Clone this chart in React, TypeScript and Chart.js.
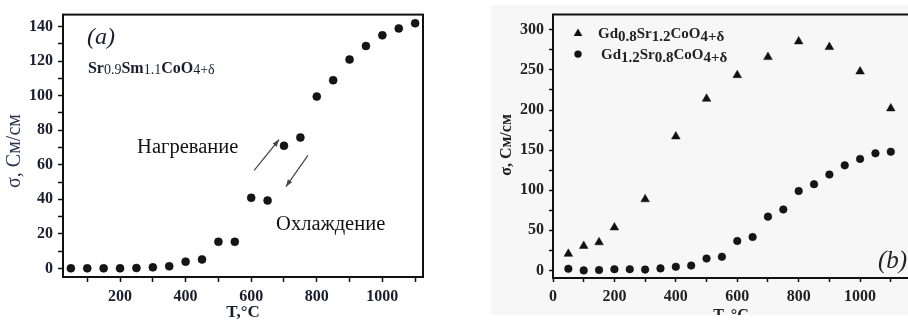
import React, { useEffect, useRef } from "react";
import { Chart, registerables } from "chart.js";

Chart.register(...registerables);

// ---------- Data ----------
const TEMP_A = [50, 100, 150, 200, 250, 300, 350, 400, 450, 500, 550, 600, 650, 700, 750, 800, 850, 900, 950, 1000, 1050, 1100];
const SIGMA_A = [0, 0, 0, 0, 0.2, 0.6, 1.2, 3.9, 5.2, 15.4, 15.4, 40.9, 39.3, 71, 75.8, 99.5, 109, 121, 128.8, 135, 139, 142];

const TEMP_B_TRI = [50, 100, 150, 200, 300, 400, 500, 600, 700, 800, 900, 1000, 1100];
const SIGMA_B_TRI = [20.6, 30.5, 35, 53.5, 88.6, 167, 214, 243.5, 266, 285.5, 278.5, 248, 202];

const TEMP_B_CIR = [50, 100, 150, 200, 250, 300, 350, 400, 450, 500, 550, 600, 650, 700, 750, 800, 850, 900, 950, 1000, 1050, 1100];
const SIGMA_B_CIR = [2, 0, 0.5, 1.5, 1.5, 1, 2.5, 4.5, 6, 14.8, 17, 36.7, 41.6, 67, 76, 99, 107.5, 119.5, 131, 139, 146, 148];

// tick marks and labelled ticks
const X_TICKS_A = [100, 200, 300, 400, 500, 600, 700, 800, 900, 1000, 1100];
const X_LABELS_A = [200, 400, 600, 800, 1000];
const Y_TICKS_A = [0, 10, 20, 30, 40, 50, 60, 70, 80, 90, 100, 110, 120, 130, 140];
const Y_LABELS_A = [0, 20, 40, 60, 80, 100, 120, 140];
const X_TICKS_B = [0, 100, 200, 300, 400, 500, 600, 700, 800, 900, 1000, 1100];
const X_LABELS_B = [0, 200, 400, 600, 800, 1000];
const Y_TICKS_B = [0, 25, 50, 75, 100, 125, 150, 175, 200, 225, 250, 275, 300];
const Y_LABELS_B = [0, 50, 100, 150, 200, 250, 300];

const X_TITLE_A = "T,°C";
const X_TITLE_B = "T, °C";
const Y_TITLE = "σ, См/см";
const TAG_A = "(a)";
const TAG_B = "(b)";
const HEATING = "Нагревание";
const COOLING = "Охлаждение";
const FORMULA_A: [string, boolean][] = [["Sr", false], ["0.9", true], ["Sm", false], ["1.1", true], ["CoO", false], ["4+δ", true]];
const LEGEND_B1: [string, boolean][] = [["Gd", false], ["0.8", true], ["Sr", false], ["1.2", true], ["CoO", false], ["4+δ", true]];
const LEGEND_B2: [string, boolean][] = [["Gd", false], ["1.2", true], ["Sr", false], ["0.8", true], ["CoO", false], ["4+δ", true]];

const FONT = '"Liberation Serif", "Times New Roman", serif';

function pts(xs: number[], ys: number[]) {
  return xs.map((x, i) => ({ x, y: ys[i] }));
}

function drawRich(ctx: CanvasRenderingContext2D, x: number, y: number, segs: [string, boolean][], base: string, sub: string, dy: number) {
  for (const [t, s] of segs) {
    ctx.font = s ? sub : base;
    ctx.fillText(t, x, y + (s ? dy : 0));
    x += ctx.measureText(t).width;
  }
}

function arrow(ctx: CanvasRenderingContext2D, x1: number, y1: number, x2: number, y2: number) {
  ctx.beginPath();
  ctx.moveTo(x1, y1);
  ctx.lineTo(x2, y2);
  ctx.stroke();
  const a = Math.atan2(y2 - y1, x2 - x1);
  const L = 7, W = 2.6;
  ctx.beginPath();
  ctx.moveTo(x2, y2);
  ctx.lineTo(x2 - L * Math.cos(a) + W * Math.sin(a), y2 - L * Math.sin(a) - W * Math.cos(a));
  ctx.lineTo(x2 - L * Math.cos(a) - W * Math.sin(a), y2 - L * Math.sin(a) + W * Math.cos(a));
  ctx.closePath();
  ctx.fill();
}

const tickFont = { family: FONT, size: 16, weight: "bold" as const };

function axis(min: number, max: number, ticks: number[], labels: number[], size: number, horizontal: boolean, color: string, tickLen: number) {
  return {
    type: "linear",
    min,
    max,
    afterFit: (s: any) => {
      if (horizontal) s.height = size;
      else s.width = size;
    },
    afterBuildTicks: (s: any) => {
      s.ticks = ticks.map((v) => ({ value: v }));
    },
    grid: { display: true, drawOnChartArea: false, drawTicks: true, tickLength: tickLen, tickWidth: 1.5, tickColor: "#111" },
    border: { display: true, color: "#111", width: 2 },
    ticks: {
      autoSkip: false,
      maxRotation: 0,
      minRotation: 0,
      padding: 5,
      color,
      font: tickFont,
      callback: (v: any) => (labels.includes(Number(v)) ? String(v) : ""),
    },
  };
}

function ChartA() {
  const ref = useRef<HTMLCanvasElement>(null);
  useEffect(() => {
    const plugin = {
      id: "decorA",
      afterDraw(chart: any) {
        const { ctx, chartArea: ca, scales } = chart;
        const x = scales.x, y = scales.y;
        ctx.save();
        ctx.strokeStyle = "#111";
        ctx.lineWidth = 2;
        ctx.strokeRect(ca.left, ca.top, ca.right - ca.left, ca.bottom - ca.top);
        ctx.fillStyle = "#1a1d2e";
        ctx.textAlign = "left";
        ctx.textBaseline = "alphabetic";
        ctx.font = `italic 24px ${FONT}`;
        ctx.fillText(TAG_A, x.getPixelForValue(99), y.getPixelForValue(130));
        drawRich(ctx, x.getPixelForValue(102), y.getPixelForValue(113.4), FORMULA_A, `bold 16px ${FONT}`, `14px ${FONT}`, 1.5);
        ctx.font = `20.5px ${FONT}`;
        ctx.fillStyle = "#111";
        ctx.fillText(HEATING, x.getPixelForValue(252), y.getPixelForValue(67));
        ctx.fillText(COOLING, x.getPixelForValue(676), y.getPixelForValue(22));
        ctx.strokeStyle = "#444";
        ctx.fillStyle = "#444";
        ctx.lineWidth = 1.2;
        arrow(ctx, x.getPixelForValue(609), y.getPixelForValue(56.7), x.getPixelForValue(685), y.getPixelForValue(74.6));
        arrow(ctx, x.getPixelForValue(773), y.getPixelForValue(65.4), x.getPixelForValue(706), y.getPixelForValue(47.4));
        // axis titles
        ctx.fillStyle = "#1a1d2e";
        ctx.font = `bold 17px ${FONT}`;
        ctx.textAlign = "center";
        ctx.textBaseline = "middle";
        ctx.fillText(X_TITLE_A, (ca.left + ca.right) / 2, 313);
        ctx.translate(15, 151);
        ctx.rotate(-Math.PI / 2);
        ctx.font = `20px ${FONT}`;
        ctx.fillStyle = "#2a3552";
        ctx.fillText(Y_TITLE, 0, 0);
        ctx.restore();
      },
    };
    const chart = new Chart(ref.current!, {
      type: "scatter",
      data: {
        datasets: [
          {
            data: pts(TEMP_A, SIGMA_A),
            pointStyle: "circle",
            pointRadius: 4,
            pointBackgroundColor: "#161616",
            pointBorderColor: "#000",
            pointBorderWidth: 0.5,
          },
        ],
      },
      options: {
        animation: false,
        responsive: false,
        layout: { padding: { top: 14, right: 17, left: 0, bottom: 0 }, autoPadding: false },
        plugins: { legend: { display: false }, tooltip: { enabled: false } },
        scales: {
          x: axis(26, 1124, X_TICKS_A, X_LABELS_A, 44, true, "#1a1d2e", 5),
          y: axis(-5, 147, Y_TICKS_A, Y_LABELS_A, 63, false, "#1a1d2e", 5),
        },
      },
      plugins: [plugin],
    } as any);
    return () => chart.destroy();
  }, []);
  return <canvas ref={ref} width={440} height={321} style={{ position: "absolute", left: 0, top: 0, width: 440, height: 321 }} />;
}

function ChartB() {
  const ref = useRef<HTMLCanvasElement>(null);
  useEffect(() => {
    const plugin = {
      id: "decorB",
      afterDraw(chart: any) {
        const { ctx, chartArea: ca } = chart;
        ctx.save();
        ctx.strokeStyle = "#111";
        ctx.lineWidth = 2;
        ctx.beginPath();
        ctx.moveTo(ca.right + 2, ca.top);
        ctx.lineTo(ca.left, ca.top);
        ctx.lineTo(ca.left, ca.bottom);
        ctx.lineTo(ca.right + 2, ca.bottom);
        ctx.stroke();
        // legend
        const lx = ca.left + 25;
        ctx.fillStyle = "#111";
        ctx.beginPath();
        const ty = ca.top + 19, tr = 5;
        ctx.moveTo(lx, ty - tr);
        ctx.lineTo(lx + tr * 0.866, ty + tr * 0.5);
        ctx.lineTo(lx - tr * 0.866, ty + tr * 0.5);
        ctx.closePath();
        ctx.fill();
        ctx.beginPath();
        ctx.arc(lx, ca.top + 39.5, 3.7, 0, Math.PI * 2);
        ctx.fill();
        ctx.fillStyle = "#222";
        ctx.textAlign = "left";
        ctx.textBaseline = "alphabetic";
        drawRich(ctx, ca.left + 45, ca.top + 23, LEGEND_B1, `bold 15px ${FONT}`, `bold 15px ${FONT}`, 3);
        drawRich(ctx, ca.left + 48, ca.top + 44, LEGEND_B2, `bold 15px ${FONT}`, `bold 15px ${FONT}`, 3);
        ctx.font = `italic 25px ${FONT}`;
        ctx.fillStyle = "#222";
        ctx.fillText(TAG_B, ca.right - 30, ca.bottom - 10);
        // axis titles
        ctx.font = `bold 16px ${FONT}`;
        ctx.textAlign = "center";
        ctx.textBaseline = "middle";
        ctx.fillText(X_TITLE_B, 277, 316);
        ctx.translate(53, 145);
        ctx.rotate(-Math.PI / 2);
        ctx.font = `bold 16px ${FONT}`;
        ctx.fillText(Y_TITLE, 0, 0);
        ctx.restore();
      },
    };
    const chart = new Chart(ref.current!, {
      type: "scatter",
      data: {
        datasets: [
          {
            data: pts(TEMP_B_TRI, SIGMA_B_TRI),
            pointStyle: "triangle",
            pointRadius: 5,
            pointBackgroundColor: "#111",
            pointBorderColor: "#111",
            pointBorderWidth: 0.5,
          },
          {
            data: pts(TEMP_B_CIR, SIGMA_B_CIR),
            pointStyle: "circle",
            pointRadius: 3.8,
            pointBackgroundColor: "#161616",
            pointBorderColor: "#000",
            pointBorderWidth: 0.5,
          },
        ],
      },
      options: {
        animation: false,
        responsive: false,
        layout: { padding: { top: 12, right: 0, left: 0, bottom: 0 }, autoPadding: false },
        plugins: { legend: { display: false }, tooltip: { enabled: false } },
        scales: {
          x: axis(0, 1156, X_TICKS_B, X_LABELS_B, 37, true, "#222", 4),
          y: axis(-9.5, 319, Y_TICKS_B, Y_LABELS_B, 99, false, "#222", 4),
        },
      },
      plugins: [plugin],
    } as any);
    return () => chart.destroy();
  }, []);
  return <canvas ref={ref} width={454} height={315} style={{ position: "absolute", left: 454, top: 0, width: 454, height: 315 }} />;
}

export default function App() {
  return (
    <div style={{ position: "fixed", left: 0, top: 0, width: 908, height: 321, background: "#fff", overflow: "hidden" }}>
      <div style={{ position: "absolute", left: 491, top: 5, width: 417, height: 310, background: "#f7f7f7" }} />
      <ChartA />
      <ChartB />
    </div>
  );
}
